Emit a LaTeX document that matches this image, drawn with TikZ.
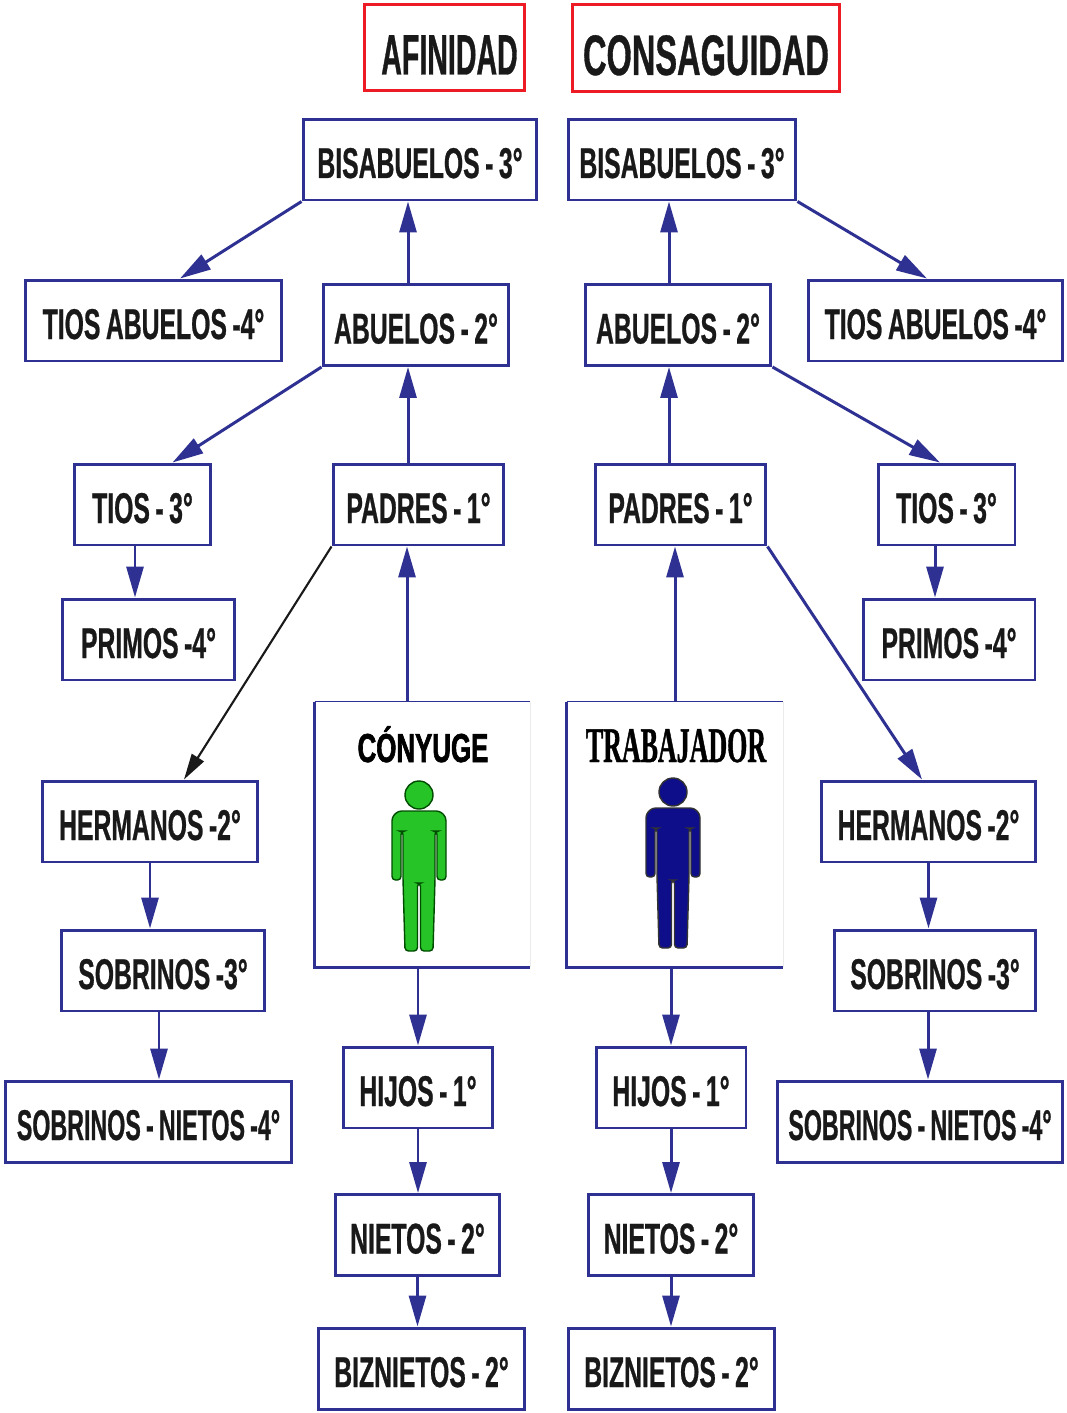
\documentclass[tikz,border=0pt]{standalone}
\usepackage{fontspec}
\usetikzlibrary{arrows.meta}
\newfontfamily\cajafont[FakeStretch=0.575, WordSpace=0.8, BoldFeatures={FakeBold=0.6}]{Liberation Sans}
\newfontfamily\cajafontN[FakeStretch=0.54, WordSpace=0.8, BoldFeatures={FakeBold=0.6}]{Liberation Sans}
\newfontfamily\titAfont[FakeStretch=0.5, BoldFeatures={FakeBold=0.6}]{Liberation Sans}
\newfontfamily\titCfont[FakeStretch=0.57, BoldFeatures={FakeBold=0.6}]{Liberation Sans}
\newfontfamily\conyfont[FakeStretch=0.64, BoldFeatures={FakeBold=1.5}]{Liberation Sans}
\newfontfamily\trabfont[FakeStretch=0.52, BoldFeatures={FakeBold=0.8}]{Liberation Serif}
\definecolor{azul}{RGB}{46,49,146}
\definecolor{rojo}{RGB}{237,28,36}
\definecolor{verde}{RGB}{38,196,38}
\definecolor{azulfig}{RGB}{14,14,138}

\tikzset{
  persona/.pic={
    \path[pic actions] (0,0) circle (0.28cm);
    \path[pic actions, rounded corners=2pt] (-27,85) -- (-27,22) -- (-21,16) -- (21,16) -- (27,22) -- (27,85) -- (18,85) -- (18,36) -- (16,36) -- (16,84) -- (14,156) -- (1.5,156) -- (1.5,88) -- (-1.5,88) -- (-1.5,156) -- (-14,156) -- (-16,84) -- (-16,36) -- (-18,36) -- (-18,85) -- cycle;
  }
}

\begin{document}
\begin{tikzpicture}[x=0.02cm, y=-0.02cm,
  caja/.style={draw=azul, line width=1.7pt, fill=white, minimum height=1.62cm, inner sep=0pt, text height=0.74cm, text depth=0pt, font=\cajafont\bfseries\fontsize{24.5}{26}\selectfont, text=black!90},
  cajaN/.style={caja, font=\cajafontN\bfseries\fontsize{24.5}{26}\selectfont},
  titulo/.style={draw=rojo, line width=1.7pt, inner sep=0pt, text height=1.08cm, text depth=0pt, text=black!90},
  flecha/.style={azul, line width=1.7pt, -{Triangle[length=0.62cm, width=0.34cm]}},
  flechanegra/.style={black!90, line width=1.2pt, -{Triangle[length=0.52cm, width=0.28cm]}}]
\useasboundingbox[fill=white] (0,0) rectangle (1066,1413);

% titulos
\node[titulo, minimum width=3.22cm, minimum height=1.74cm, font=\titAfont\bfseries\fontsize{32.5}{34}\selectfont] (tAfi) at (444.5,47.5) {\hspace*{0.2cm}AFINIDAD};
\node[titulo, minimum width=5.36cm, minimum height=1.76cm, font=\titCfont\bfseries\fontsize{32.5}{34}\selectfont] (tCon) at (706,48) {CONSAGUIDAD};

% cajas
\node[caja, minimum width=4.68cm] (bisL) at (420,159.5) {BISABUELOS - 3°};
\node[caja, minimum width=4.56cm] (bisR) at (682,159.5) {BISABUELOS - 3°};
\node[caja, minimum width=5.14cm] (tabL) at (153.5,320.5) {TIOS ABUELOS -4°};
\node[caja, minimum width=3.72cm] (abuL) at (416,325) {ABUELOS - 2°};
\node[caja, minimum width=3.72cm] (abuR) at (678,325) {ABUELOS - 2°};
\node[caja, minimum width=5.1cm] (tabR) at (935.5,320.5) {TIOS ABUELOS -4°};
\node[caja, minimum width=2.74cm] (tioL) at (142.5,504.5) {TIOS - 3°};
\node[caja, minimum width=3.42cm] (padL) at (418.5,504.5) {PADRES - 1°};
\node[caja, minimum width=3.42cm] (padR) at (680.5,504.5) {PADRES - 1°};
\node[caja, minimum width=2.74cm] (tioR) at (946.5,504.5) {TIOS - 3°};
\node[caja, minimum width=3.46cm] (priL) at (148.5,639.5) {PRIMOS -4°};
\node[caja, minimum width=3.44cm] (priR) at (949,639.5) {PRIMOS -4°};
\node[caja, minimum width=4.32cm] (herL) at (150,821.5) {HERMANOS -2°};
\node[caja, minimum width=4.3cm] (herR) at (928.5,821.5) {HERMANOS -2°};
\node[caja, minimum width=4.08cm] (sobL) at (163,970.5) {SOBRINOS -3°};
\node[caja, minimum width=4.04cm] (sobR) at (935,970.5) {SOBRINOS -3°};
\node[cajaN, minimum width=5.74cm] (snL) at (148.5,1121.5) {SOBRINOS - NIETOS -4°};
\node[cajaN, minimum width=5.72cm] (snR) at (920,1121.5) {SOBRINOS - NIETOS -4°};
\node[caja, minimum width=3cm] (hijL) at (418,1087.5) {HIJOS - 1°};
\node[caja, minimum width=3cm] (hijR) at (671,1087.5) {HIJOS - 1°};
\node[caja, minimum width=3.3cm] (nieL) at (417.5,1235) {NIETOS - 2°};
\node[caja, minimum width=3.32cm] (nieR) at (671,1235) {NIETOS - 2°};
\node[caja, minimum width=4.14cm] (bizL) at (421.5,1368.5) {BIZNIETOS - 2°};
\node[caja, minimum width=4.14cm] (bizR) at (671.5,1368.5) {BIZNIETOS - 2°};

% conyuge y trabajador
\node[fill=white, inner sep=0pt, minimum width=4.3cm, minimum height=5.3cm] (conL) at (422.5,834.5) {};
\draw[azul, line width=1.7pt] (conL.north west) -- (conL.south west) -- (conL.south east);
\draw[azul, line width=0.9pt] (conL.north west) -- (conL.north east);
\draw[black!8] (conL.north east) -- (conL.south east);
\node[anchor=base, font=\conyfont\bfseries\fontsize{23}{24}\selectfont] (conTxt) at (423,762) {CÓNYUGE};
\pic[fill=verde, draw=green!30!black, line width=0.8pt] (figL) at (419,795) {persona};

\node[fill=white, inner sep=0pt, minimum width=4.32cm, minimum height=5.3cm] (traR) at (675,834.5) {};
\draw[azul, line width=1.7pt] (traR.north west) -- (traR.south west) -- (traR.south east);
\draw[azul, line width=0.9pt] (traR.north west) -- (traR.north east);
\draw[black!8] (traR.north east) -- (traR.south east);
\node[anchor=base, font=\trabfont\bfseries\fontsize{28.4}{30}\selectfont] (traTxt) at (676,762) {TRABAJADOR};
\pic[fill=azulfig, draw=black!80, line width=0.8pt] (figR) at (673,792) {persona};

% afinidad
\draw[flecha] ([xshift=-0.16cm]abuL.north) -- ([xshift=-0.16cm]abuL.north |- bisL.south);
\draw[flecha] (bisL.south west) -- ([xshift=0.53cm]tabL.north);
\draw[flecha] ([xshift=-0.21cm]padL.north) -- ([xshift=-0.21cm]padL.north |- abuL.south);
\draw[flecha] (abuL.south west) -- ([xshift=0.6cm]tioL.north);
\draw[flecha] ([xshift=-0.15cm]tioL.south) -- ([xshift=-0.15cm]tioL.south |- priL.north);
\draw[flechanegra] (padL.south west) -- ([xshift=0.68cm]herL.north);
\draw[flecha] ([xshift=-0.31cm]conL.north) -- ([xshift=-0.31cm]conL.north |- padL.south);
\draw[flecha] (herL.south) -- (herL.south |- sobL.north);
\draw[flecha] ([xshift=-0.08cm]sobL.south) -- ([xshift=-0.08cm]sobL.south |- snL.north);
\draw[flecha] (hijL.north |- conL.south) -- (hijL.north);
\draw[flecha] (hijL.south) -- (hijL.south |- nieL.north);
\draw[flecha] (nieL.south) -- (nieL.south |- bizL.north);

% consanguinidad
\draw[flecha] ([xshift=-0.18cm]abuR.north) -- ([xshift=-0.18cm]abuR.north |- bisR.south);
\draw[flecha] (bisR.south east) -- ([xshift=-0.17cm]tabR.north);
\draw[flecha] ([xshift=-0.23cm]padR.north) -- ([xshift=-0.23cm]padR.north |- abuR.south);
\draw[flecha] (abuR.south east) -- ([xshift=-0.13cm]tioR.north);
\draw[flecha] ([xshift=-0.23cm]tioR.south) -- ([xshift=-0.23cm]tioR.south |- priR.north);
\draw[flecha] (padR.south east) -- ([xshift=-0.13cm]herR.north);
\draw[flecha] (traR.north) -- (traR.north |- padR.south);
\draw[flecha] (herR.south) -- (herR.south |- sobR.north);
\draw[flecha] ([xshift=-0.14cm]sobR.south) -- ([xshift=-0.14cm]sobR.south |- snR.north);
\draw[flecha] (hijR.north |- traR.south) -- (hijR.north);
\draw[flecha] (hijR.south) -- (hijR.south |- nieR.north);
\draw[flecha] (nieR.south) -- (nieR.south |- bizR.north);
\end{tikzpicture}
\end{document}
